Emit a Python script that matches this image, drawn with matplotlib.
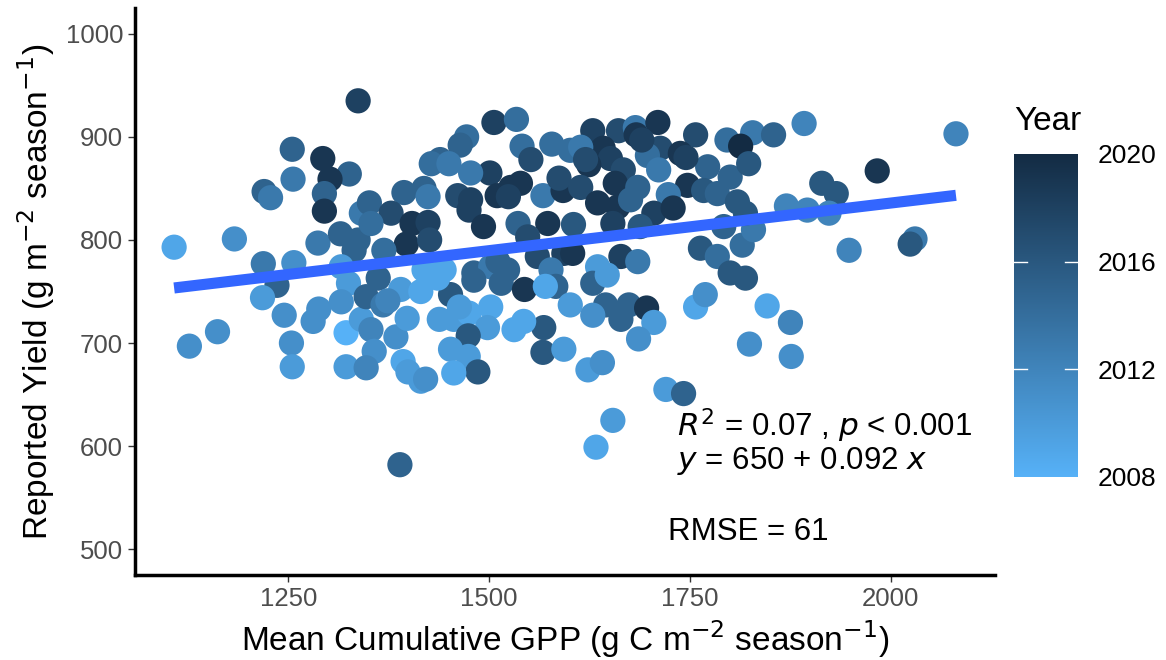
import numpy as np
import matplotlib.pyplot as plt
from matplotlib.colors import LinearSegmentedColormap, Normalize
from matplotlib.cm import ScalarMappable

plt.rcParams['font.family'] = ['Liberation Sans', 'DejaVu Sans']

# mean cumulative GPP, reported yield, year
gpp = [1337, 1255, 1293, 1326, 1302, 1256, 1220, 1228, 1295, 1295, 1341, 1108, 1183, 1287, 1315, 1332, 1219, 1257, 1316,
       1236, 1218, 1245, 1281, 1162, 1127, 1254, 1255, 1322, 1322, 1325, 1341, 1347,
       1506, 1534, 1472, 1464, 1541, 1552, 1578, 1601, 1439, 1428, 1450, 1501, 1477, 1394, 1419, 1351, 1378, 1404,
       1424, 1397, 1426, 1424, 1461, 1477, 1475, 1493, 1510, 1527, 1539, 1524, 1567, 1592, 1587, 1536, 1573, 1548,
       1560, 1593, 1337, 1353, 1369, 1419, 1444, 1481, 1502, 1523, 1577,
       1629, 1661, 1682, 1710, 1683, 1757, 1796, 1828, 1854, 1813, 1642, 1614, 1713, 1738, 1697, 1651, 1624, 1667,
       1711, 1772, 1800, 1823, 1657, 1614, 1685, 1747, 1767, 1784, 1723, 1635, 1660, 1676, 1705, 1729, 1605, 1654,
       1688, 1604, 1664, 1685, 1635, 1763, 1784, 1815, 1829, 1792, 1809, 1819, 1800, 1819,
       1892, 2081, 1983, 1914, 1932, 1870, 1896, 1923, 1948, 2030, 2024,
       1362, 1368, 1353, 1384, 1357, 1347, 1393, 1399, 1415, 1421, 1390, 1415, 1452, 1481, 1515, 1544, 1583, 1438,
       1456, 1475, 1502, 1498, 1531, 1474, 1452, 1474, 1486, 1456, 1568, 1567, 1593, 1543, 1389,
       1629, 1601, 1645, 1629, 1664, 1674, 1696, 1705, 1686, 1623, 1641, 1720, 1742, 1654, 1633, 1757, 1769, 1846,
       1824, 1875, 1876,
       1374, 1511, 1570, 1647, 1436, 1463, 1316, 1288, 1398, 1690, 1620, 1745]
yld = [935, 888, 879, 864, 859, 859, 847, 841, 845, 828, 826, 793, 801, 797, 806, 790, 777, 778, 774,
       756, 744, 727, 721, 711, 697, 700, 677, 710, 677, 758, 723, 745,
       914, 917, 900, 892, 891, 878, 893, 887, 878, 874, 874, 865, 865, 846, 850, 836, 826, 816,
       817, 796, 800, 842, 843, 839, 829, 813, 843, 851, 855, 842, 843, 848, 860, 816, 816, 803,
       784, 787, 800, 816, 790, 771, 771, 768, 774, 771, 771,
       906, 906, 909, 914, 902, 902, 897, 904, 902, 891, 889, 890, 889, 884, 882, 879, 873, 868,
       868, 871, 861, 874, 855, 851, 851, 853, 848, 845, 844, 836, 832, 839, 826, 831, 815, 816,
       813, 787, 784, 779, 774, 792, 784, 795, 810, 813, 837, 826, 768, 763,
       913, 903, 867, 855, 845, 833, 829, 826, 790, 801, 796,
       763, 737, 713, 706, 692, 676, 682, 672, 663, 665, 752, 750, 747, 761, 758, 752, 755, 723,
       723, 729, 735, 715, 713, 707, 694, 687, 672, 671, 715, 691, 694, 721, 582,
       758, 737, 737, 727, 723, 737, 734, 720, 704, 674, 681, 655, 651, 625, 599, 735, 747, 736,
       699, 720, 687,
       741, 779, 755, 766, 763, 735, 740, 733, 724, 897, 878, 880]
year = [2018, 2015, 2019, 2015, 2019, 2013, 2015, 2013, 2015, 2019, 2013, 2009, 2011, 2013, 2015, 2015, 2013, 2011, 2010,
        2015, 2010, 2011, 2011, 2011, 2011, 2011, 2010, 2008, 2010, 2010, 2010, 2015,
        2018, 2014, 2014, 2015, 2014, 2017, 2014, 2014, 2015, 2014, 2013, 2018, 2013, 2015, 2015, 2015, 2017, 2019,
        2018, 2019, 2017, 2013, 2017, 2018, 2018, 2019, 2019, 2019, 2019, 2018, 2013, 2019, 2017, 2015, 2019, 2017,
        2017, 2018, 2015, 2014, 2014, 2009, 2009, 2015, 2013, 2015, 2013,
        2018, 2017, 2013, 2019, 2019, 2017, 2014, 2013, 2015, 2020, 2019, 2013, 2017, 2019, 2014, 2018, 2019, 2017,
        2013, 2015, 2015, 2016, 2019, 2017, 2015, 2019, 2016, 2015, 2013, 2019, 2019, 2015, 2018, 2019, 2016, 2018,
        2016, 2019, 2018, 2013, 2010, 2016, 2014, 2014, 2013, 2015, 2016, 2016, 2016, 2016,
        2012, 2012, 2019, 2016, 2016, 2012, 2012, 2012, 2012, 2013, 2016,
        2015, 2013, 2012, 2011, 2011, 2012, 2009, 2010, 2010, 2011, 2010, 2009, 2016, 2015, 2015, 2019, 2015, 2010,
        2010, 2009, 2009, 2010, 2009, 2016, 2010, 2010, 2016, 2009, 2016, 2016, 2010, 2009, 2015,
        2015, 2010, 2015, 2011, 2015, 2015, 2019, 2010, 2011, 2010, 2011, 2010, 2015, 2010, 2009, 2009, 2011, 2009,
        2011, 2012, 2011,
        2012, 2015, 2009, 2010, 2009, 2010, 2011, 2011, 2010, 2018, 2017, 2018]

annot_stats = ['$R^2$ = 0.07 , $p$ < 0.001', '$y$ = 650 + 0.092 $x$', 'RMSE = 61']

gpp = np.array(gpp)
yld = np.array(yld)
year = np.array(year)

cmap = LinearSegmentedColormap.from_list('yr', ['#56B1F7', '#132B43'])
norm = Normalize(2008, 2020)

fig = plt.figure(figsize=(11.66, 6.6), dpi=100)
ax = fig.add_axes([0.1158, 0.1288, 0.7376, 0.859])

ax.scatter(gpp, yld, c=year, cmap=cmap, norm=norm, s=330, linewidths=0, zorder=2)

# linear fit
b, a = np.polyfit(gpp, yld, 1)
xs = np.array([gpp.min(), gpp.max()])
ax.plot(xs, a + b * xs, color='#3366FF', lw=8, solid_capstyle='butt', zorder=3)

rng = gpp.max() - gpp.min()
ax.set_xlim(gpp.min() - 0.05 * rng, gpp.max() + 0.05 * rng)
ax.set_ylim(475, 1025)
ax.set_xticks([1250, 1500, 1750, 2000])
ax.set_yticks([500, 600, 700, 800, 900, 1000])

for s in ['top', 'right']:
    ax.spines[s].set_visible(False)
for s in ['left', 'bottom']:
    ax.spines[s].set_linewidth(2.5)
ax.tick_params(axis='both', length=5, width=1, color='#333333', labelcolor='#4D4D4D', labelsize=18.5)

ax.set_xlabel('Mean Cumulative GPP (g C m$^{-2}$ season$^{-1}$)', fontsize=24, labelpad=5)
ax.set_ylabel('Reported Yield (g m$^{-2}$ season$^{-1}$)', fontsize=24, labelpad=6)

ax.text(1734, 609, annot_stats[0], fontsize=22.5, ha='left', va='baseline')
ax.text(1734, 578, annot_stats[1], fontsize=22.5, ha='left', va='baseline')
ax.text(1723, 509, annot_stats[2], fontsize=22.5, ha='left', va='baseline')

# colour bar legend
cax = fig.add_axes([1014 / 1166, (660 - 477) / 660, 64 / 1166, 323 / 660])
cb = fig.colorbar(ScalarMappable(norm=norm, cmap=cmap), cax=cax, ticks=[2008, 2012, 2016, 2020])
cb.outline.set_visible(False)
cb.ax.tick_params(length=0, labelsize=19, pad=14)
cb.ax.set_yticklabels(['2008', '2012', '2016', '2020'])
for t in [2012, 2016]:
    cax.plot([0, 0.2], [t, t], color='white', lw=1)
    cax.plot([0.8, 1], [t, t], color='white', lw=1)
fig.text(1014 / 1166, (660 - 122) / 660, 'Year', fontsize=24, va='center', ha='left')

fig.savefig('out.png', dpi=100)
